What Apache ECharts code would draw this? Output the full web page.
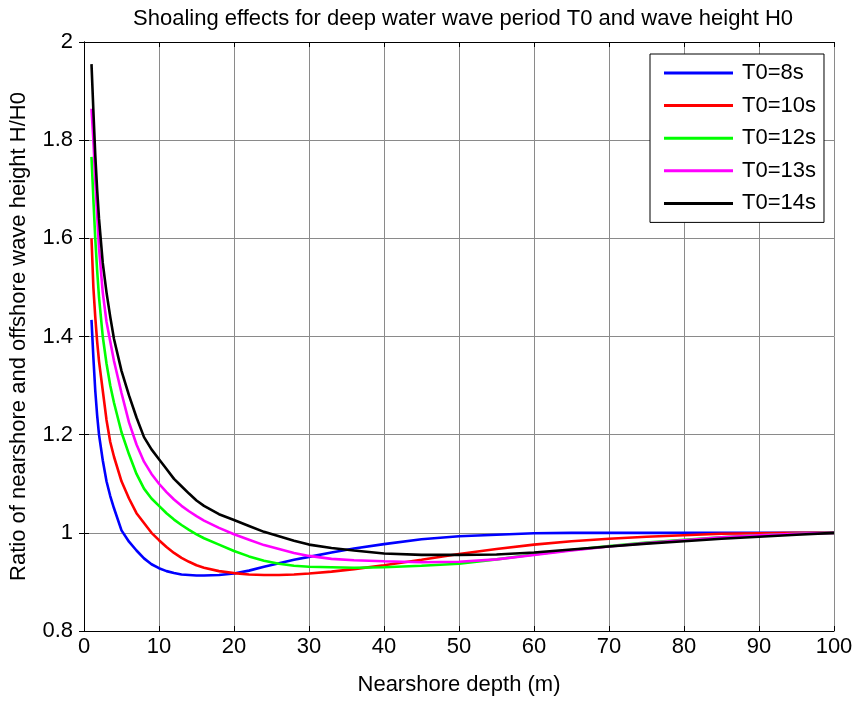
<!DOCTYPE html>
<html>
<head>
<meta charset="utf-8">
<script src="https://cdn.jsdelivr.net/npm/echarts@6/dist/echarts.min.js"></script>
<style>
  html, body { margin: 0; padding: 0; background: #fff; }
  #chart { width: 856px; height: 701px; }
</style>
</head>
<body>
<div id="chart"></div>
<script>
// nearshore depth (m), shared by all series
const depths = [1, 1.25, 1.5, 1.75, 2, 2.5, 3, 3.5, 4, 5, 6, 7, 8, 9, 10, 11, 12, 13, 14, 15, 16, 18, 20, 22, 24, 26, 28, 30, 33, 36, 40, 45, 50, 55, 60, 65, 70, 75, 80, 85, 90, 95, 100]

// H/H0
const t8 = [1.434, 1.357, 1.29, 1.24, 1.2, 1.148, 1.105, 1.075, 1.05, 1.005, 0.982, 0.964, 0.948, 0.936, 0.928, 0.922, 0.918, 0.915, 0.914, 0.913, 0.913, 0.914, 0.917, 0.923, 0.931, 0.938, 0.945, 0.951, 0.960, 0.968, 0.977, 0.987, 0.993, 0.996, 0.999, 1.0, 1.0, 1.0, 1.0, 1.0, 1.0, 1.0, 1.0]
const t10 = [1.60, 1.50, 1.44, 1.39, 1.35, 1.29, 1.23, 1.185, 1.155, 1.105, 1.07, 1.04, 1.02, 1.0, 0.985, 0.971, 0.959, 0.949, 0.941, 0.934, 0.929, 0.922, 0.918, 0.915, 0.914, 0.914, 0.915, 0.917, 0.921, 0.926, 0.934, 0.945, 0.957, 0.967, 0.976, 0.983, 0.988, 0.992, 0.995, 0.998, 0.999, 1.0, 1.0]
const t12 = [1.766, 1.68, 1.60, 1.535, 1.48, 1.40, 1.345, 1.30, 1.265, 1.205, 1.16, 1.12, 1.09, 1.07, 1.055, 1.04, 1.027, 1.016, 1.006, 0.997, 0.989, 0.976, 0.963, 0.952, 0.943, 0.937, 0.933, 0.931, 0.930, 0.929, 0.930, 0.933, 0.937, 0.946, 0.956, 0.965, 0.973, 0.980, 0.986, 0.991, 0.995, 0.998, 1.0]
const t13 = [1.864, 1.80, 1.72, 1.65, 1.58, 1.49, 1.43, 1.39, 1.35, 1.285, 1.225, 1.18, 1.145, 1.12, 1.10, 1.083, 1.068, 1.055, 1.044, 1.034, 1.025, 1.01, 0.997, 0.986, 0.975, 0.967, 0.959, 0.953, 0.947, 0.944, 0.942, 0.940, 0.941, 0.946, 0.955, 0.964, 0.972, 0.979, 0.985, 0.991, 0.995, 0.998, 1.0]
const t14 = [1.955, 1.86, 1.77, 1.70, 1.64, 1.55, 1.49, 1.44, 1.395, 1.33, 1.28, 1.235, 1.195, 1.17, 1.15, 1.13, 1.11, 1.095, 1.08, 1.066, 1.055, 1.038, 1.026, 1.014, 1.002, 0.993, 0.984, 0.976, 0.969, 0.964, 0.958, 0.955, 0.955, 0.956, 0.960, 0.966, 0.972, 0.978, 0.983, 0.988, 0.992, 0.996, 1.0]

const seriesNames = ['T0=8s', 'T0=10s', 'T0=12s', 'T0=13s', 'T0=14s']
const seriesValues = [t8, t10, t12, t13, t14]
const seriesColors = ['#0000ff', '#ff0000', '#00ff00', '#ff00ff', '#000000']

const font = 'Liberation Sans, Arial, Helvetica, sans-serif'

const chart = echarts.init(document.getElementById('chart'))

const series = seriesNames.map((name, i) => ({
  name,
  type: 'line',
  showSymbol: false,
  symbol: 'none',
  data: depths.map((d, j) => [d, seriesValues[i][j]]),
  lineStyle: { color: seriesColors[i], width: 2.6 },
  itemStyle: { color: seriesColors[i] },
  animation: false
}))

const tickStyle = { show: true, inside: true, length: 5, lineStyle: { color: '#000', width: 1 } }

const option = {
  backgroundColor: '#fff',
  animation: false,
  title: {
    text: 'Shoaling effects for deep water wave period T0 and wave height H0',
    left: 458,
    top: 3,
    textAlign: 'center',
    textStyle: { fontFamily: font, fontSize: 22, fontWeight: 'normal', color: '#000' }
  },
  grid: { left: 83, right: 22, top: 42, bottom: 68 },
  legend: {
    orient: 'vertical',
    left: 650,
    top: 54,
    padding: [8, 8, 8, 14],
    itemWidth: 69,
    itemHeight: 3,
    itemGap: 10.6,
    icon: 'rect',
    backgroundColor: '#fff',
    borderColor: '#000',
    borderWidth: 1,
    textStyle: { fontFamily: font, fontSize: 22, color: '#000', padding: [0, 0, 0, 4] },
    data: seriesNames
  },
  xAxis: [
    {
      type: 'value',
      min: 0,
      max: 100,
      interval: 10,
      name: 'Nearshore depth (m)',
      nameLocation: 'middle',
      nameGap: 43,
      nameTextStyle: { fontFamily: font, fontSize: 22, color: '#000' },
      axisLine: { show: true, lineStyle: { color: '#000', width: 1 } },
      axisTick: tickStyle,
      axisLabel: { fontFamily: font, fontSize: 22, color: '#000', margin: 5 },
      splitLine: { show: true, lineStyle: { color: '#8a8a8a', width: 1 } }
    },
    {
      type: 'value',
      position: 'top',
      min: 0,
      max: 100,
      interval: 10,
      axisLine: { show: true, lineStyle: { color: '#000', width: 1 } },
      axisTick: tickStyle,
      axisLabel: { show: false },
      splitLine: { show: false }
    }
  ],
  yAxis: [
    {
      type: 'value',
      min: 0.8,
      max: 2,
      interval: 0.2,
      name: 'Ratio of nearshore and offshore wave height H/H0',
      nameLocation: 'middle',
      nameGap: 54,
      nameTextStyle: { fontFamily: font, fontSize: 22, color: '#000' },
      axisLine: { show: true, lineStyle: { color: '#000', width: 1 } },
      axisTick: tickStyle,
      axisLabel: {
        fontFamily: font,
        fontSize: 22,
        color: '#000',
        margin: 11,
        formatter: v => {
          const r = Math.round(v * 10) / 10
          return Number.isInteger(r) ? String(r) : r.toFixed(1)
        }
      },
      splitLine: { show: true, lineStyle: { color: '#8a8a8a', width: 1 } }
    },
    {
      type: 'value',
      position: 'right',
      min: 0.8,
      max: 2,
      interval: 0.2,
      axisLine: { show: true, lineStyle: { color: '#000', width: 1 } },
      axisTick: tickStyle,
      axisLabel: { show: false },
      splitLine: { show: false }
    }
  ],
  series
}

chart.setOption(option)
</script>
</body>
</html>
